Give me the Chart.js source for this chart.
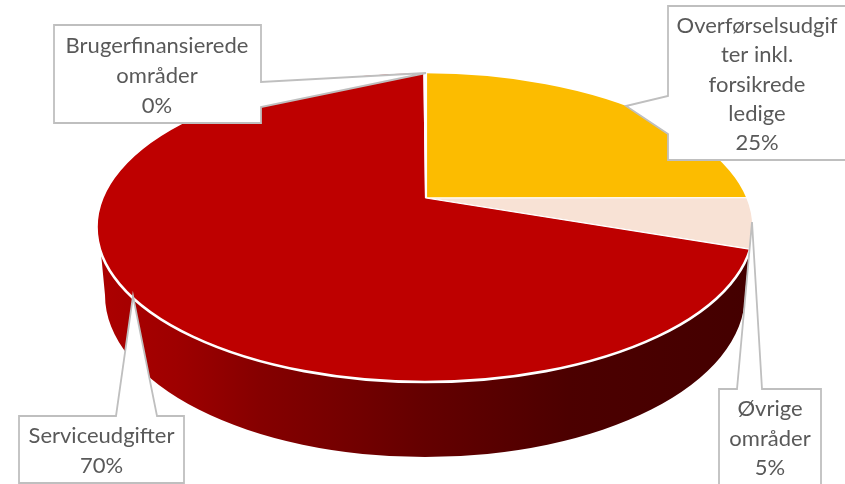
<!DOCTYPE html>
<html><head><meta charset="utf-8">
<style>html,body{margin:0;padding:0;background:#fff}canvas{display:block}</style>
<script src="https://cdn.jsdelivr.net/npm/chart.js@4"></script>
</head><body><canvas id="c" width="845" height="484"></canvas>
<script>
const categories = ['Overførselsudgifter inkl. forsikrede ledige','Øvrige områder','Serviceudgifter','Brugerfinansierede områder'];
const labelLines = [['Overførselsudgif','ter inkl.','forsikrede','ledige'],['Øvrige','områder'],['Serviceudgifter'],['Brugerfinansierede','områder']];
const values = [25,5,70,0.1];
const colors = ['#FCBC00','#F8E2D5','#BE0000','#E46C6C'];

const TOP = {cx:425,cy:227,rx:328.5,ry:155};
const BOT = {cx:425,cy:295,rx:320,ry:162};
const APEX = {x:426,y:198}, SCALE = 3, TILT = 0.49;

const callouts = [
 {i:0,cx:757,base:[33,62,92,121,150],poly:[[668,6],[850,6],[850,160],[668,160],[668,134],[626,106],[668,96]]},
 {i:1,cx:770,base:[416,446,475],poly:[[719,389],[737,389],[752,222],[762,389],[821,389],[821,490],[719,490]]},
 {i:2,cx:101.5,base:[443,473],poly:[[19,416],[116,416],[133,296],[157,416],[184,416],[184,483],[19,483]]},
 {i:3,cx:157,base:[53,83,113],poly:[[54,25],[261,25],[261,82],[426,73],[261,107],[261,123],[54,123]]}
];

const pie3d = {
 id:'pie3d',
 beforeDatasetsDraw(chart){
  const ctx = chart.ctx, arc = chart.getDatasetMeta(0).data[0];
  ctx.save();
  const g = ctx.createLinearGradient(98,0,752,0);
  [[0,'#AC0000'],[0.12,'#9E0000'],[0.25,'#850000'],[0.5,'#640000'],[0.72,'#4C0000'],[1,'#440000']].forEach(s=>g.addColorStop(s[0],s[1]));
  ctx.fillStyle = g;
  ctx.beginPath();
  ctx.moveTo(TOP.cx-TOP.rx+2,TOP.cy);
  ctx.lineTo(BOT.cx-BOT.rx,BOT.cy);
  ctx.ellipse(BOT.cx,BOT.cy,BOT.rx,BOT.ry,0,Math.PI,0,true);
  ctx.lineTo(TOP.cx+TOP.rx-2,TOP.cy);
  ctx.closePath();
  ctx.fill();
  ctx.beginPath();
  ctx.ellipse(TOP.cx,TOP.cy,TOP.rx,TOP.ry,0,0,Math.PI*2);
  ctx.clip();
  ctx.translate(APEX.x,APEX.y);
  ctx.scale(SCALE,SCALE*TILT);
  ctx.translate(-arc.x,-arc.y);
 },
 afterDatasetsDraw(chart){
  const ctx = chart.ctx;
  ctx.restore();
  ctx.save();
  ctx.strokeStyle = '#fff';
  ctx.lineWidth = 2.6;
  ctx.beginPath();
  ctx.ellipse(TOP.cx,TOP.cy,TOP.rx,TOP.ry,0,0,Math.PI*2);
  ctx.stroke();
  const total = values.reduce((a,b)=>a+b,0);
  callouts.forEach(c=>{
   ctx.beginPath();
   c.poly.forEach((p,k)=>k?ctx.lineTo(p[0],p[1]):ctx.moveTo(p[0],p[1]));
   ctx.closePath();
   ctx.fillStyle='#fff'; ctx.fill();
   ctx.strokeStyle='#BFBFBF'; ctx.lineWidth=1.8; ctx.stroke();
   ctx.fillStyle='#595959';
   ctx.font='22px Lato';
   ctx.textAlign='center';
   ctx.textBaseline='alphabetic';
   const lines = labelLines[c.i].concat(Math.round(values[c.i]/total*100)+'%');
   lines.forEach((t,k)=>ctx.fillText(t,c.cx,c.base[k]));
  });
  ctx.restore();
 }
};

new Chart(document.getElementById('c'),{
 type:'pie',
 data:{labels:categories,datasets:[{data:values,backgroundColor:colors,borderColor:'#fff',borderWidth:0.7}]},
 options:{responsive:false,animation:false,plugins:{legend:{display:false},tooltip:{enabled:false}},layout:{padding:0}},
 plugins:[pie3d]
});
</script></body></html>
